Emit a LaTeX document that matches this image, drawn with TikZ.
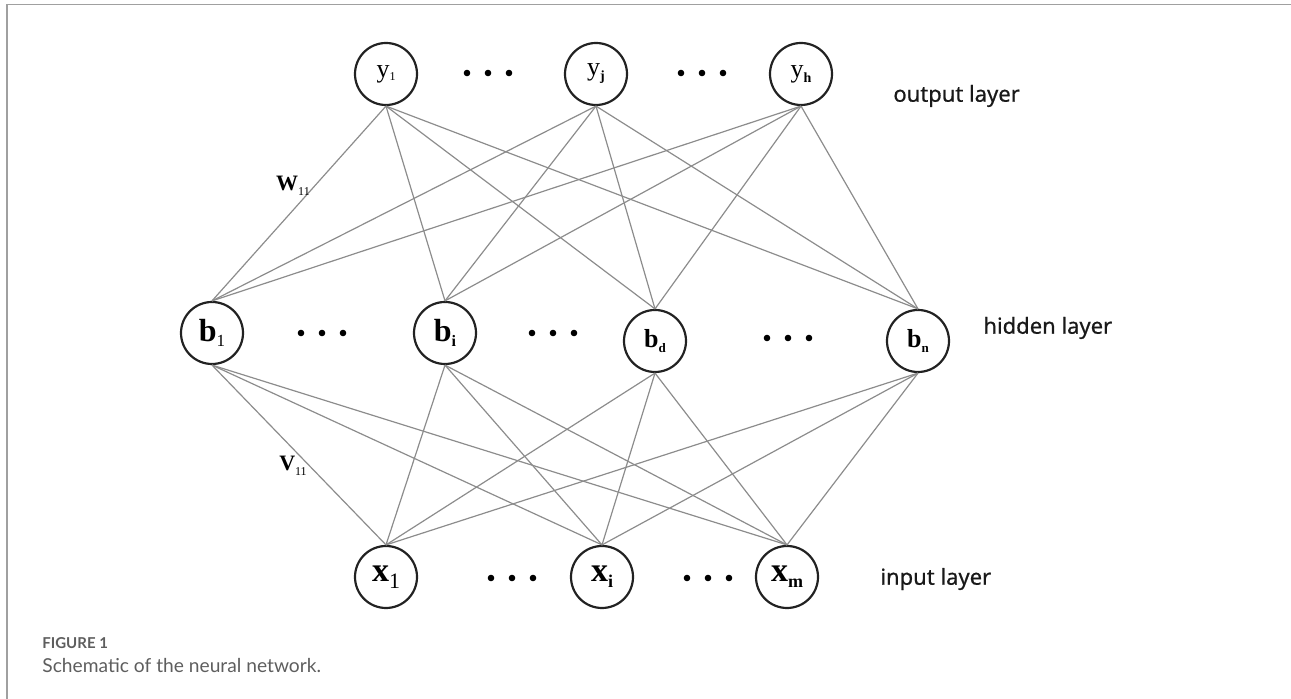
\documentclass[tikz,border=0pt]{standalone}
\usepackage{fontspec}
\setmainfont{Liberation Serif}
\newfontfamily\labfont[FakeBold=0.6]{Noto Sans}
\newfontfamily\capfont{Lato}
\definecolor{edgegray}{HTML}{8C8C8C}
\definecolor{circgray}{HTML}{222222}
\definecolor{framegray}{HTML}{A0A0A0}
\definecolor{capgray}{HTML}{5E5E5E}
\begin{document}
\begin{tikzpicture}[x=0.5pt,y=-0.5pt,
  neuron/.style={circle,draw=circgray,line width=1.1pt,minimum size=31pt,inner sep=0pt},
  link/.style={draw=edgegray,line width=0.6pt},
  layerlab/.style={anchor=west,font=\labfont\fontsize{11}{12}\selectfont,inner sep=0pt,text=black!90},
  weight/.style={inner sep=0pt},
  dotmark/.style={circle,fill=black,inner sep=0pt,minimum size=3.3pt}]
\useasboundingbox (0,0) rectangle (1291,699);
\draw[framegray,line width=0.6pt] (1291,4.5) -- (7,4.5) -- (7,699);

% output layer
\node[neuron] (y1) at (386,74) {{\fontsize{13}{13}\selectfont y}\raisebox{-1.5pt}{\fontsize{6}{6}\selectfont 1}};
\node[neuron] (yj) at (596,74) {{\fontsize{13}{13}\selectfont y}\raisebox{-2.5pt}{\fontsize{7}{7}\selectfont\bfseries j}};
\node[neuron] (yh) at (801,74) {{\fontsize{13}{13}\selectfont y}\raisebox{-2.5pt}{\fontsize{7}{7}\selectfont\bfseries h}};
% hidden layer
\node[neuron] (b1) at (212,333) {{\fontsize{16}{16}\selectfont\bfseries b}\raisebox{-2.5pt}{\fontsize{8.5}{9}\selectfont 1}};
\node[neuron] (bi) at (445,333) {{\fontsize{16}{16}\selectfont\bfseries b}\raisebox{-2.5pt}{\fontsize{8}{8}\selectfont\bfseries i}};
\node[neuron] (bd) at (655,341) {{\fontsize{13}{13}\selectfont\bfseries b}\raisebox{-2.5pt}{\fontsize{6.5}{7}\selectfont\bfseries d}};
\node[neuron] (bn) at (918,341) {{\fontsize{13}{13}\selectfont\bfseries b}\raisebox{-2.5pt}{\fontsize{6.5}{7}\selectfont\bfseries n}};
% input layer
\node[neuron] (x1) at (386,577) {{\fontsize{17}{17}\selectfont\bfseries x}\raisebox{-3.5pt}{\fontsize{11}{11}\selectfont 1}};
\node[neuron] (xi) at (602,577) {{\fontsize{17}{17}\selectfont\bfseries x}\raisebox{-3pt}{\fontsize{9}{9}\selectfont\bfseries i}};
\node[neuron] (xm) at (787,577) {{\fontsize{17}{17}\selectfont\bfseries x}\raisebox{-3pt}{\fontsize{9}{9}\selectfont\bfseries m}};

% ellipsis dots
\foreach \cx/\cy/\nm in {488/73/oa,702/73/ob,322/333/ha,553/333/hb,788/338/hc,512/578/ia,708/578/ib}{
  \node[dotmark] (\nm l) at (\cx-21,\cy) {};
  \node[dotmark] (\nm c) at (\cx,\cy) {};
  \node[dotmark] (\nm r) at (\cx+21,\cy) {};
}

% connections
\foreach \u in {y1,yj,yh}{
  \foreach \h in {b1,bi,bd,bn}{
    \draw[link] (\u.south) -- (\h.north);
  }
}
\foreach \h in {b1,bi,bd,bn}{
  \foreach \v in {x1,xi,xm}{
    \draw[link] (\h.south) -- (\v.north);
  }
}

% weight labels
\node[weight] (w11) at (293,186) {{\fontsize{11}{11}\selectfont\bfseries W}\raisebox{-2.5pt}{\fontsize{6}{6}\selectfont 11}};
\node[weight] (v11) at (293,466) {{\fontsize{11}{11}\selectfont\bfseries V}\raisebox{-2.5pt}{\fontsize{6}{6}\selectfont 11}};

% layer labels
\node[layerlab] (lout) at (893,96) {output layer};
\node[layerlab] (lhid) at (983,328) {hidden layer};
\node[layerlab] (lin) at (880,579) {input layer};

% caption
\node[anchor=west,inner sep=0pt,text=capgray,font=\capfont\bfseries\fontsize{7.5}{8}\selectfont] (fig) at (42,643) {FIGURE 1};
\node[anchor=west,inner sep=0pt,text=capgray,font=\capfont\fontsize{9.6}{11}\selectfont] (cap) at (42,666) {Schematic of the neural network.};
\end{tikzpicture}
\end{document}
